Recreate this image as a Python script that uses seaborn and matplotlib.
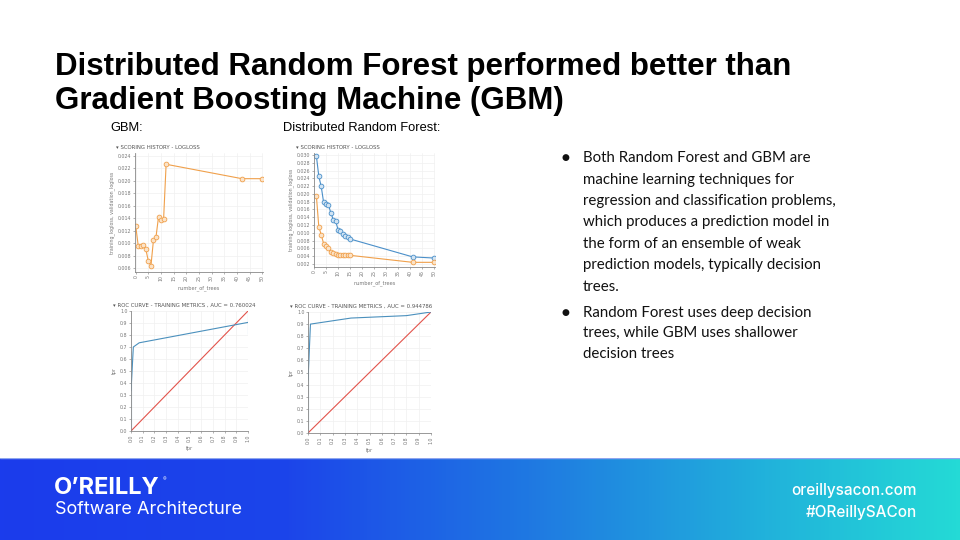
import numpy as np
import matplotlib
matplotlib.use("Agg")
import matplotlib.pyplot as plt
from matplotlib.colors import LinearSegmentedColormap
from matplotlib.ticker import FormatStrFormatter
import seaborn as sns

# Slide text
title_lines = ["Distributed Random Forest performed better than",
               "Gradient Boosting Machine (GBM)"]
panel_labels = ["GBM:", "Distributed Random Forest:"]
bullet_1 = ["Both Random Forest and GBM are",
            "machine learning techniques for",
            "regression and classification problems,",
            "which produces a prediction model in",
            "the form of an ensemble of weak",
            "prediction models, typically decision",
            "trees."]
bullet_2 = ["Random Forest uses deep decision",
            "trees, while GBM uses shallower",
            "decision trees"]

# GBM scoring history
gbm_trees = [0, 1, 2, 3, 4, 5, 6, 7, 8, 9, 10, 11, 12, 42, 50]
gbm_logloss = [0.0127, 0.0095, 0.0096, 0.0097, 0.0090, 0.0071, 0.0064, 0.0105,
               0.0110, 0.0142, 0.0137, 0.0138, 0.0226, 0.0203, 0.0203]

# DRF scoring history
drf_trees = [1, 2, 3, 4, 5, 6, 7, 8, 9, 10, 11, 12, 13, 14, 15, 41, 50]
drf_train = [0.0297, 0.0245, 0.0219, 0.0178, 0.0175, 0.0172, 0.0151, 0.0134, 0.0130,
             0.0108, 0.0104, 0.0097, 0.0091, 0.0089, 0.0084, 0.0038, 0.0035]
drf_valid = [0.0194, 0.0115, 0.0095, 0.0072, 0.0067, 0.0061, 0.0050, 0.0047, 0.0045,
             0.0044, 0.0043, 0.0043, 0.0042, 0.0042, 0.0042, 0.0024, 0.0024]

# ROC curves
gbm_fpr = [0.0, 0.0, 0.02, 0.07, 1.0, 1.0]
gbm_tpr = [0.0, 0.67, 0.70, 0.735, 0.81, 1.0]
drf_fpr = [0.0, 0.0, 0.02, 0.35, 0.80, 1.0]
drf_tpr = [0.0, 0.875, 0.90, 0.95, 0.97, 1.0]
diag = [0.0, 1.0]

gbm_auc = "0.760024"
drf_auc = "0.944786"

sns.set_style("white")
plt.rcParams["font.family"] = ["DejaVu Sans"]

W, H = 960, 540
fig = plt.figure(figsize=(9.6, 5.4), dpi=100)


def px_axes(x0, y0, x1, y1):
    return fig.add_axes([x0 / W, 1 - y1 / H, (x1 - x0) / W, (y1 - y0) / H])


def ftext(x, y, s, **kw):
    return fig.text(x / W, 1 - y / H, s, **kw)


orange = "#f0a04b"
orange_fill = "#fbe3c8"
blue = "#4a8fc9"
blue_fill = "#d2e4f3"
roc_blue = "#4b90bd"
red = "#e2534b"
grey = "#777777"


def style_h2o(ax, title, xlabel, ylabel):
    ax.set_facecolor("white")
    ax.grid(True, color="#f0f0f0", lw=0.5)
    for s in ["top", "right"]:
        ax.spines[s].set_visible(False)
    for s in ["left", "bottom"]:
        ax.spines[s].set_color("#888888")
        ax.spines[s].set_linewidth(0.6)
    ax.tick_params(axis="both", labelsize=3.4, colors=grey, length=1.5,
                   width=0.4, pad=1, left=True, bottom=True)
    ax.set_title(title, fontsize=3.9, color="#555555", loc="left", pad=3,
                 x=-0.15)
    ax.set_xlabel(xlabel, fontsize=3.6, color=grey, labelpad=3)
    ax.set_ylabel(ylabel, fontsize=3.4, color=grey, labelpad=2)


# GBM scoring history
ax1 = px_axes(135, 153, 263, 272)
sns.lineplot(x=gbm_trees, y=gbm_logloss, ax=ax1, color=orange, lw=0.8,
             marker="o", markersize=3.4, markerfacecolor=orange_fill,
             markeredgecolor=orange, markeredgewidth=0.6)
ax1.set_xlim(-0.3, 50.3)
ax1.set_ylim(0.0054, 0.0244)
ax1.set_xticks(np.arange(0, 51, 5))
ax1.set_yticks(np.arange(0.006, 0.0241, 0.002))
ax1.yaxis.set_major_formatter(FormatStrFormatter("%.3f"))
ax1.tick_params(axis="x", labelrotation=90)
style_h2o(ax1, "\u25be SCORING HISTORY - LOGLOSS", "number_of_trees",
          "training_logloss, validation_logloss")

# DRF scoring history
ax2 = px_axes(314, 153, 435, 267)
sns.lineplot(x=drf_trees, y=drf_train, ax=ax2, color=blue, lw=0.8,
             marker="o", markersize=3.4, markerfacecolor=blue_fill,
             markeredgecolor=blue, markeredgewidth=0.6)
sns.lineplot(x=drf_trees, y=drf_valid, ax=ax2, color=orange, lw=0.8,
             marker="o", markersize=3.4, markerfacecolor=orange_fill,
             markeredgecolor=orange, markeredgewidth=0.6)
ax2.set_xlim(0, 50.3)
ax2.set_ylim(0.0012, 0.0305)
ax2.set_xticks(np.arange(0, 51, 5))
ax2.set_yticks(np.arange(0.002, 0.0301, 0.002))
ax2.yaxis.set_major_formatter(FormatStrFormatter("%.3f"))
ax2.tick_params(axis="x", labelrotation=90)
style_h2o(ax2, "\u25be SCORING HISTORY - LOGLOSS", "number_of_trees",
          "training_logloss, validation_logloss")

# GBM ROC
ax3 = px_axes(131, 311, 248, 431)
sns.lineplot(x=diag, y=diag, ax=ax3, color=red, lw=0.8, sort=False)
sns.lineplot(x=gbm_fpr, y=gbm_tpr, ax=ax3, color=roc_blue, lw=0.8, sort=False)
ax3.set_xlim(0, 1)
ax3.set_ylim(0, 1)
ax3.set_xticks(np.arange(0, 1.01, 0.1))
ax3.set_yticks(np.arange(0, 1.01, 0.1))
ax3.xaxis.set_major_formatter(FormatStrFormatter("%.1f"))
ax3.yaxis.set_major_formatter(FormatStrFormatter("%.1f"))
ax3.tick_params(axis="x", labelrotation=90)
style_h2o(ax3, "\u25be ROC CURVE - TRAINING METRICS , AUC = " + gbm_auc, "fpr", "tpr")

# DRF ROC
ax4 = px_axes(308, 312, 431, 433)
sns.lineplot(x=diag, y=diag, ax=ax4, color=red, lw=0.8, sort=False)
sns.lineplot(x=drf_fpr, y=drf_tpr, ax=ax4, color=roc_blue, lw=0.8, sort=False)
ax4.set_xlim(0, 1)
ax4.set_ylim(0, 1)
ax4.set_xticks(np.arange(0, 1.01, 0.1))
ax4.set_yticks(np.arange(0, 1.01, 0.1))
ax4.xaxis.set_major_formatter(FormatStrFormatter("%.1f"))
ax4.yaxis.set_major_formatter(FormatStrFormatter("%.1f"))
ax4.tick_params(axis="x", labelrotation=90)
style_h2o(ax4, "\u25be ROC CURVE - TRAINING METRICS , AUC = " + drf_auc, "fpr", "tpr")

# Footer band with gradient
axf = px_axes(0, 458, 960, 540)
cmap = LinearSegmentedColormap.from_list(
    "footer", [(0, "#1b3cec"), (0.3, "#1c45ea"), (0.55, "#1f78e2"),
               (0.8, "#21b2db"), (1, "#24dad6")])
axf.imshow(np.linspace(0, 1, 256)[None, :], cmap=cmap, aspect="auto",
           extent=[0, 1, 0, 1])
axf.axis("off")
axf.axhline(1, color="#8fa6ee", lw=1)

# Titles
ftext(55, 75, title_lines[0], fontsize=22.5, fontweight="bold",
      family="Liberation Sans", va="baseline", color="black")
ftext(55, 109, title_lines[1], fontsize=22.5, fontweight="bold",
      family="Liberation Sans", va="baseline", color="black")
ftext(110, 128, panel_labels[0], fontsize=9.3, family="Liberation Sans",
      va="center", color="black")
ftext(283, 128, panel_labels[1], fontsize=9.3, family="Liberation Sans",
      va="center", color="black")

# Bullets
y = 158
for i, line in enumerate(bullet_1):
    if i == 0:
        ftext(561, y, "\u25cf", fontsize=6.5, va="center", color="#111111")
    ftext(583, y, line, fontsize=10.8, family="Lato", va="center", color="#111111")
    y += 21.5
y += 4
for i, line in enumerate(bullet_2):
    if i == 0:
        ftext(561, y, "\u25cf", fontsize=6.5, va="center", color="#111111")
    ftext(583, y, line, fontsize=10.8, family="Lato", va="center", color="#111111")
    y += 20.5

# Footer texts
ftext(54, 488, "O\u2019REILLY", fontsize=17, fontweight="bold", family="Inter",
      color="white", va="center")
ftext(163, 480, "\u00ae", fontsize=4, family="Inter", color="white", va="center")
ftext(55, 510, "Software Architecture", fontsize=13, family="Inter",
      color="white", va="center")
ftext(917, 490, "oreillysacon.com", fontsize=11, family="Inter", fontweight="medium",
      color="white", va="center", ha="right")
ftext(917, 512, "#OReillySACon", fontsize=11, family="Inter", fontweight="medium",
      color="white", va="center", ha="right")

fig.savefig("out.png", dpi=100, facecolor="white")
